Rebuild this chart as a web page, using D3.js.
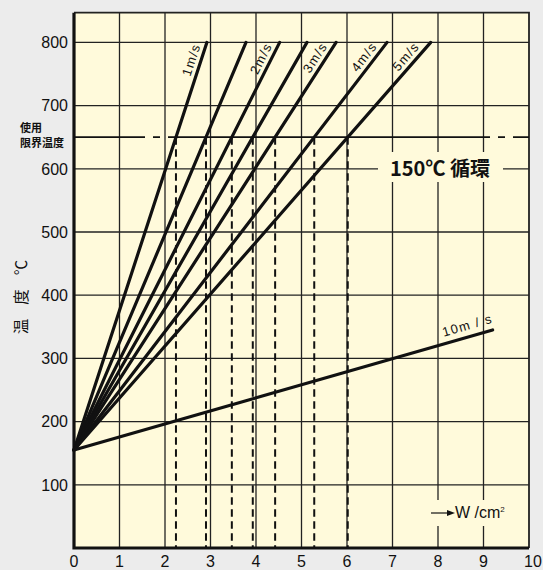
<!DOCTYPE html>
<html>
<head>
<meta charset="utf-8">
<script src="https://cdn.jsdelivr.net/npm/d3@7"></script>
<style>
  html, body { margin: 0; padding: 0; background: #ececec; }
  svg { display: block; }
  text { font-family: "Liberation Sans", Arial, sans-serif; fill: #111; }
  .jp { font-family: "Noto Sans CJK JP", sans-serif; }
</style>
</head>
<body>
<div id="chart"></div>
<script>
// chart values
var wTicks = [0, 1, 2, 3, 4, 5, 6, 7, 8, 9, 10];
var tempTicks = [100, 200, 300, 400, 500, 600, 700, 800];
var speedLabels = ['1m/s', '', '2m/s', '', '3m/s', '4m/s', '5m/s', '10m / s'];
var startTemp = 155;                       // all lines start at W = 0
var endW = [2.92, 3.78, 4.52, 5.12, 5.76, 6.88, 7.84, 9.2];
var endTemp = [800, 800, 800, 800, 800, 800, 800, 345];
var limitTemp = 650;                       // 使用限界温度

var width = 543, height = 570;
var margin = { top: 12.7, right: 14, bottom: 22, left: 74 };

var x = d3.scaleLinear().domain([0, 10]).range([margin.left, width - margin.right]);
var y = d3.scaleLinear().domain([0, 800]).range([height - margin.bottom, 42.4]);
var yTop = margin.top;

var svg = d3.select('#chart').append('svg')
  .attr('width', width)
  .attr('height', height);

// plot background
svg.append('rect')
  .attr('x', x(0)).attr('y', yTop)
  .attr('width', x(10) - x(0)).attr('height', y(0) - yTop)
  .attr('fill', '#fffadb');

/**
 * Grid
 */
svg.selectAll('.vgrid').data(wTicks.slice(1, -1))
  .enter().append('line')
    .attr('class', 'vgrid')
    .attr('x1', function(d) { return x(d); })
    .attr('x2', function(d) { return x(d); })
    .attr('y1', yTop).attr('y2', y(0))
    .attr('stroke', '#222').attr('stroke-width', 1.3);

svg.selectAll('.hgrid').data(tempTicks)
  .enter().append('line')
    .attr('class', 'hgrid')
    .attr('x1', x(0)).attr('x2', x(10))
    .attr('y1', function(d) { return y(d); })
    .attr('y2', function(d) { return y(d); })
    .attr('stroke', '#222').attr('stroke-width', 1.3);

// border: top/right thin, left/bottom heavy
svg.append('path')
  .attr('d', 'M' + x(0) + ',' + yTop + 'H' + x(10) + 'V' + y(0))
  .attr('fill', 'none').attr('stroke', '#222').attr('stroke-width', 1.8);
svg.append('path')
  .attr('d', 'M' + x(0) + ',' + yTop + 'V' + y(0) + 'H' + x(10))
  .attr('fill', 'none').attr('stroke', '#111').attr('stroke-width', 3.2);

/**
 * Tick labels
 */
svg.selectAll('.xlab').data(wTicks)
  .enter().append('text')
    .attr('class', 'xlab')
    .attr('x', function(d) { return x(d) - (d === 10 ? -4 : 0); })
    .attr('y', 567)
    .attr('text-anchor', 'middle')
    .style('font-size', '16px')
    .text(String);

svg.selectAll('.ylab').data(tempTicks)
  .enter().append('text')
    .attr('class', 'ylab')
    .attr('x', 68)
    .attr('y', function(d) { return y(d); })
    .attr('dy', '0.36em')
    .attr('text-anchor', 'end')
    .style('font-size', '16px')
    .text(String);

// axis title (vertical)
svg.append('text')
  .attr('class', 'jp')
  .attr('transform', 'translate(27,' + 290 + ')rotate(-90)')
  .attr('text-anchor', 'middle')
  .style('font-size', '15.5px')
  .style('letter-spacing', '14px')
  .text('温度℃');

// 使用限界温度 label
var lim = svg.append('text').attr('class', 'jp')
  .style('font-size', '11px').style('font-weight', 'bold');
lim.append('tspan').attr('x', 20).attr('y', y(limitTemp) - 5).text('使用');
lim.append('tspan').attr('x', 20).attr('y', y(limitTemp) + 10).text('限界温度');

/**
 * Limit temperature: dash-dot line and the drop lines
 */
svg.append('line')
  .attr('x1', x(0)).attr('x2', x(10))
  .attr('y1', y(limitTemp)).attr('y2', y(limitTemp))
  .attr('stroke', '#111').attr('stroke-width', 1.8)
  .attr('stroke-dasharray', '322,8,7,8')
  .attr('stroke-dashoffset', 251);

var lines = endW.map(function(w, i) {
  return { label: speedLabels[i], x0: 0, t0: startTemp, x1: w, t1: endTemp[i] };
});

var crossings = lines.filter(function(d) { return d.t1 > limitTemp; })
  .map(function(d) {
    return d3.scaleLinear().domain([d.t0, d.t1]).range([d.x0, d.x1])(limitTemp);
  });

svg.selectAll('.drop').data(crossings)
  .enter().append('line')
    .attr('class', 'drop')
    .attr('x1', function(d) { return x(d); })
    .attr('x2', function(d) { return x(d); })
    .attr('y1', y(limitTemp)).attr('y2', y(0))
    .attr('stroke', '#111').attr('stroke-width', 2)
    .attr('stroke-dasharray', '7.5,4.5');

/**
 * Velocity lines
 */
svg.selectAll('.vel').data(lines)
  .enter().append('line')
    .attr('class', 'vel')
    .attr('x1', function(d) { return x(d.x0); })
    .attr('y1', function(d) { return y(d.t0); })
    .attr('x2', function(d) { return x(d.x1); })
    .attr('y2', function(d) { return y(d.t1); })
    .attr('stroke', '#111').attr('stroke-width', 3.2)
    .attr('stroke-linecap', 'round');

// labels along each line
svg.selectAll('.vlab').data(lines.filter(function(d) { return d.label; }))
  .enter().append('text')
    .attr('class', 'vlab')
    .attr('transform', function(d) {
      var tAt = d.t1 === 800 ? 768 : 335;
      var w = d3.scaleLinear().domain([d.t0, d.t1]).range([d.x0, d.x1])(tAt);
      var px = x(w), py = y(tAt);
      var ang = Math.atan2(y(d.t1) - y(d.t0), x(d.x1) - x(d.x0)) * 180 / Math.PI;
      return 'translate(' + px + ',' + py + ')rotate(' + ang + ')';
    })
    .attr('dy', function(d) { return d.t1 === 800 ? -5 : -7; })
    .attr('text-anchor', 'middle')
    .style('font-size', '13px')
    .style('letter-spacing', '1.3px')
    .text(function(d) { return d.label; });

/**
 * 150℃循環 box
 */
svg.append('rect')
  .attr('x', 378).attr('y', 152).attr('width', 125).attr('height', 30)
  .attr('fill', '#fffadb');
svg.append('text')
  .attr('class', 'jp')
  .attr('x', 440).attr('y', y(600))
  .attr('dy', '0.36em')
  .attr('text-anchor', 'middle')
  .style('font-size', '20px').style('font-weight', 'bold')
  .text('150℃ 循環');

/**
 * Unit label
 */
svg.append('rect')
  .attr('x', 426).attr('y', 500).attr('width', 76).attr('height', 26)
  .attr('fill', '#fffadb');
svg.append('line')
  .attr('x1', 431).attr('x2', 449).attr('y1', 513).attr('y2', 513)
  .attr('stroke', '#111').attr('stroke-width', 1.2);
svg.append('path')
  .attr('d', 'M455,513L447,510L447,516Z')
  .attr('fill', '#111');
var unit = svg.append('text')
  .attr('x', 455).attr('y', 518)
  .style('font-size', '16px');
unit.append('tspan').text('W /cm');
unit.append('tspan').attr('dy', -6).style('font-size', '8px').text('2');
</script>
</body>
</html>
